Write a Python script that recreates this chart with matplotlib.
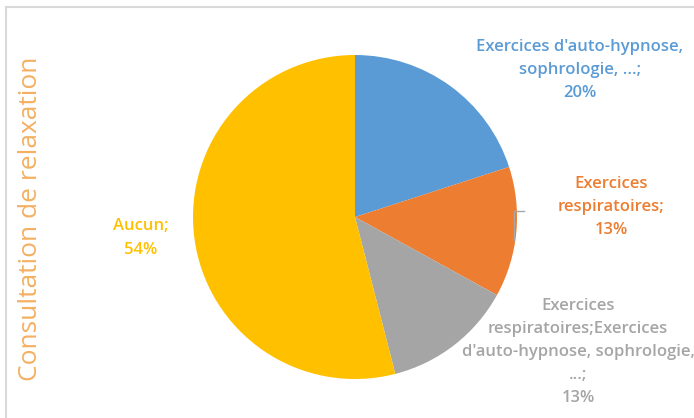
import matplotlib.pyplot as plt
from matplotlib.lines import Line2D

categories = ["Exercices d'auto-hypnose,\nsophrologie, ...;",
              "Exercices\nrespiratoires;",
              "Exercices\nrespiratoires;Exercices\nd'auto-hypnose, sophrologie,\n...;",
              "Aucun;"]
shares = [20, 13, 13, 54]
colors = ["#5B9BD5", "#ED7D31", "#A5A5A5", "#FFC000"]
title = "Consultation de relaxation"

plt.rcParams['font.family'] = ['Open Sans', 'DejaVu Sans']

W, H = 694, 418
fig = plt.figure(figsize=(W / 100, H / 100), dpi=100)

# chart frame (light gray, runs off right/bottom)
fig.add_artist(Line2D([6 / W, 1], [1 - 7 / H, 1 - 7 / H], color="#D9D9D9", lw=1.5))
fig.add_artist(Line2D([6 / W, 6 / W], [0, 1 - 7 / H], color="#D9D9D9", lw=1.5))

cx, cy, r = 355, 217, 162
ax = fig.add_axes([(cx - r) / W, (H - cy - r) / H, 2 * r / W, 2 * r / H])
wedges, _ = ax.pie(shares, colors=colors, startangle=90, counterclock=False,
                   radius=1, wedgeprops=dict(linewidth=0))
ax.set_xlim(-1, 1)
ax.set_ylim(-1, 1)
ax.set_aspect("equal")
ax.axis("off")

# data labels, positioned in pixels
label_pos = [(580, 70), (611, 207), (578, 352), (141, 238)]
for cat, val, col, (px, py) in zip(categories, shares, colors, label_pos):
    fig.text(px / W, 1 - py / H, f"{cat}\n{val}%", color=col, fontsize=12,
             fontweight="semibold", ha="center", va="center", linespacing=1.6)

# leader line for the orange label
fig.add_artist(Line2D([514 / W, 514 / W, 524 / W],
                      [1 - 240 / H, 1 - 211 / H, 1 - 211 / H],
                      color="#A6A6A6", lw=1))

fig.text(31 / W, 1 - 219 / H, title, rotation=90, color="#F4B062",
         fontsize=19, fontweight="normal", ha="center", va="center")

fig.savefig("out.png", dpi=100)
